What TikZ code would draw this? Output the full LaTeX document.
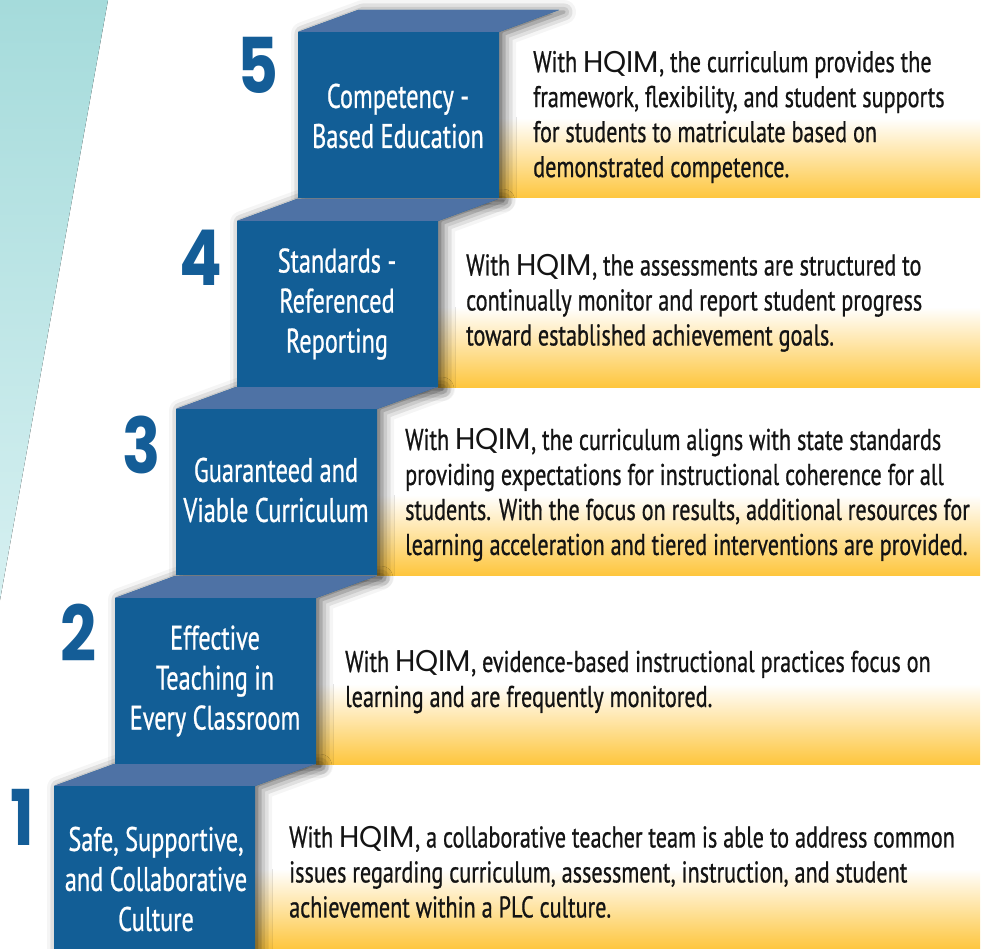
\documentclass[tikz,border=0pt]{standalone}
\usepackage{fontspec}
\setmainfont{PT Sans}
\newfontfamily\descfont[FakeStretch=0.74,FakeBold=0.7]{PT Sans}
\newfontfamily\labfont[FakeStretch=0.715,FakeBold=0.7]{PT Sans}
\newfontfamily\hqfont[FakeStretch=0.98]{Poppins}
\newfontfamily\numfont[FakeStretch=0.82]{Poppins}
\usetikzlibrary{shadows.blur}
\definecolor{stepfront}{RGB}{18,94,150}
\definecolor{steptop}{RGB}{78,114,165}
\definecolor{boxyellow}{RGB}{254,198,62}
\definecolor{tealtop}{RGB}{165,219,219}
\definecolor{tealbot}{RGB}{214,240,241}
\definecolor{numblue}{RGB}{20,93,151}
\tikzset{
  stepshadow/.style={fill=stepfront, blur shadow={shadow xshift=5pt, shadow yshift=-2pt, shadow blur radius=12pt, shadow opacity=65}},
  frontface/.style={fill=stepfront},
  topface/.style={fill=steptop},
  yfade/.style={top color=white, bottom color=boxyellow},
  steplabel/.style={text=white, align=center, font=\labfont\fontsize{34}{40}\selectfont, inner sep=0pt},
  desc/.style={text=black!92, align=left, anchor=west, font=\descfont\fontsize{30}{35}\selectfont, inner sep=0pt},
  stepnum/.style={text=numblue, font=\numfont\bfseries\fontsize{77}{77}\selectfont, inner sep=0pt}
}
\begin{document}
\begin{tikzpicture}[x=1pt,y=-1pt]
\useasboundingbox (0,0) rectangle (992,949);
% background wedge
\fill[top color=tealtop, bottom color=tealbot] (0,0) -- (108,0) -- (0,600) -- cycle;
% yellow fades of the text boxes
\fill[yfade] (499,118) rectangle (980,198);
\fill[yfade] (438,307) rectangle (980,387);
\fill[yfade] (377,495) rectangle (980,575);
\fill[yfade] (316,684) rectangle (980,764);
\fill[yfade] (255,869) rectangle (980,949);
% shadows of the step blocks
\path[stepshadow] (298,32) -- (358,10) -- (559,10) -- (499,32) -- (499,198) -- (298,198) -- cycle;
\path[stepshadow] (237,221) -- (297,199) -- (498,199) -- (438,221) -- (438,387) -- (237,387) -- cycle;
\path[stepshadow] (176,409) -- (236,387) -- (437,387) -- (377,409) -- (377,575) -- (176,575) -- cycle;
\path[stepshadow] (115,598) -- (175,576) -- (376,576) -- (316,598) -- (316,764) -- (115,764) -- cycle;
\path[stepshadow] (54,786) -- (114,764) -- (315,764) -- (255,786) -- (255,960) -- (54,960) -- cycle;
% step faces
\fill[topface] (298,32) -- (358,10) -- (559,10) -- (499,32) -- cycle;
\fill[frontface] (298,32) rectangle (499,198);
\fill[topface] (237,221) -- (297,199) -- (498,199) -- (438,221) -- cycle;
\fill[frontface] (237,221) rectangle (438,387);
\fill[topface] (176,409) -- (236,387) -- (437,387) -- (377,409) -- cycle;
\fill[frontface] (176,409) rectangle (377,575);
\fill[topface] (115,598) -- (175,576) -- (376,576) -- (316,598) -- cycle;
\fill[frontface] (115,598) rectangle (316,764);
\fill[topface] (54,786) -- (114,764) -- (315,764) -- (255,786) -- cycle;
\fill[frontface] (54,786) rectangle (255,960);
% step labels
\node[steplabel] (l5) at (398,116) {Competency -\\Based Education};
\node[steplabel] (l4) at (337,304) {Standards -\\Referenced\\Reporting};
\node[steplabel] (l3) at (276,490) {Guaranteed and\\Viable Curriculum};
\node[steplabel] (l2) at (215,681) {Effective\\Teaching in\\Every Classroom};
\node[steplabel] (l1) at (156,879) {Safe, Supportive,\\and Collaborative\\Culture};
% numbers
\node[stepnum] (n5) at (258,65) {5};
\node[stepnum] (n4) at (201,258) {4};
\node[stepnum] (n3) at (142,445) {3};
\node[stepnum] (n2) at (79,633) {2};
\node[stepnum] (n1) at (22,817) {1};
% descriptions
\node[desc] (d5) at (533,117) {With {\hqfont HQIM}, the curriculum provides the\\framework, flexibility, and student supports\\for students to matriculate based on\\demonstrated competence.};
\node[desc] (d4) at (466,303) {With {\hqfont HQIM}, the assessments are structured to\\continually monitor and report student progress\\toward established achievement goals.};
\node[desc] (d3) at (405,495) {With {\hqfont HQIM}, the curriculum aligns with state standards\\providing expectations for instructional coherence for all\\students. With the focus on results, additional resources for\\learning acceleration and tiered interventions are provided.};
\node[desc] (d2) at (345,682) {With {\hqfont HQIM}, evidence-based instructional practices focus on\\learning and are frequently monitored.};
\node[desc] (d1) at (289,872) {With {\hqfont HQIM}, a collaborative teacher team is able to address common\\issues regarding curriculum, assessment, instruction, and student\\achievement within a PLC culture.};
\end{tikzpicture}
\end{document}
